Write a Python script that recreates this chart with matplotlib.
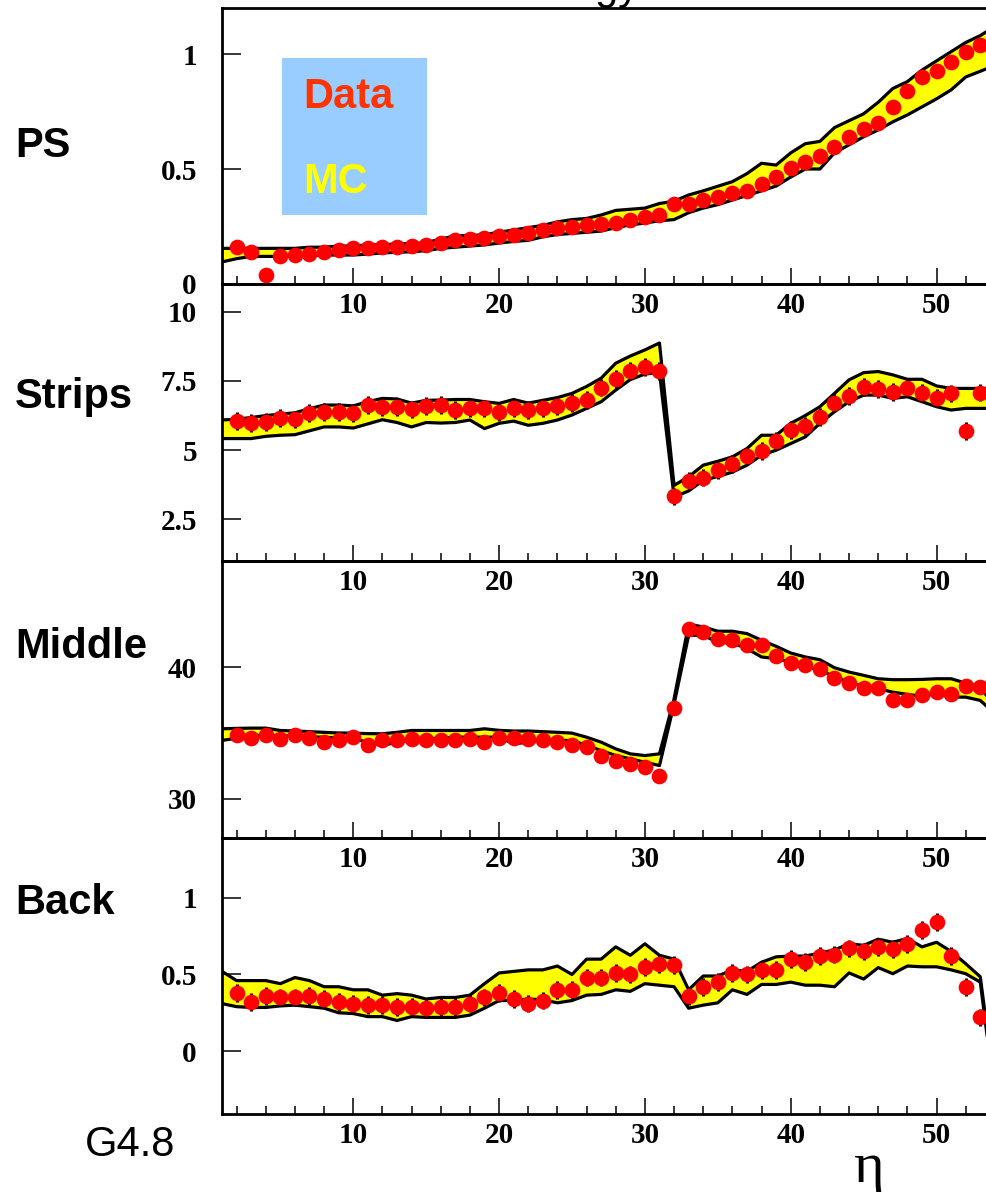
import matplotlib
matplotlib.use("Agg")
import matplotlib.pyplot as plt
from matplotlib.ticker import MultipleLocator, FixedLocator, FixedFormatter
from matplotlib.patches import Rectangle
from matplotlib.font_manager import FontProperties

# ---- eta bins -------------------------------------------------------------
data_x = list(range(2, 54))   # data points
mc_x = list(range(1, 55))     # MC band nodes

# ---- PS ---------------------------------------------------------------------
ps_data = [0.16, 0.14, 0.04, 0.12, 0.125, 0.13, 0.14, 0.15, 0.155, 0.155,
           0.16, 0.16, 0.165, 0.17, 0.18, 0.19, 0.195, 0.20, 0.21, 0.215,
           0.22, 0.235, 0.243, 0.25, 0.257, 0.26, 0.265, 0.28, 0.29, 0.30,
           0.348, 0.35, 0.365, 0.377, 0.397, 0.406, 0.435, 0.466, 0.503, 0.532,
           0.557, 0.597, 0.637, 0.672, 0.702, 0.77, 0.837, 0.899, 0.928, 0.966,
           1.01, 1.04]
ps_mc_hi = [0.155, 0.155, 0.155, 0.155, 0.155, 0.155, 0.16, 0.16, 0.165, 0.165,
            0.17, 0.17, 0.175, 0.175, 0.18, 0.195, 0.21, 0.21, 0.215, 0.225,
            0.235, 0.245, 0.255, 0.27, 0.28, 0.285, 0.30, 0.32, 0.325, 0.33,
            0.35, 0.36, 0.387, 0.405, 0.425, 0.445, 0.48, 0.525, 0.517, 0.57,
            0.61, 0.62, 0.68, 0.71, 0.74, 0.79, 0.85, 0.88, 0.93, 0.97,
            1.01, 1.05, 1.08, 1.12]
ps_mc_lo = [0.096, 0.11, 0.12, 0.12, 0.12, 0.122, 0.124, 0.126, 0.126, 0.126,
            0.13, 0.135, 0.138, 0.14, 0.145, 0.155, 0.16, 0.165, 0.17, 0.178,
            0.185, 0.19, 0.205, 0.215, 0.22, 0.225, 0.23, 0.245, 0.257, 0.265,
            0.275, 0.28, 0.31, 0.33, 0.345, 0.365, 0.385, 0.405, 0.426, 0.465,
            0.50, 0.50, 0.57, 0.605, 0.64, 0.67, 0.705, 0.735, 0.77, 0.805,
            0.844, 0.90, 0.925, 0.95]
ps_err = 0.03

# ---- Strips -----------------------------------------------------------------
strips_data = [6.06, 5.97, 6.03, 6.15, 6.11, 6.33, 6.39, 6.39, 6.33, 6.63,
               6.55, 6.57, 6.47, 6.59, 6.63, 6.45, 6.53, 6.51, 6.37, 6.51,
               6.45, 6.53, 6.59, 6.71, 6.81, 7.26, 7.57, 7.87, 8.0, 7.87,
               3.33, 3.88, 4.01, 4.27, 4.49, 4.79, 4.96, 5.33, 5.72, 5.88,
               6.21, 6.71, 6.96, 7.29, 7.2, 7.11, 7.26, 7.08, 6.9, 7.05,
               5.7, 7.08]
strips_mc_hi = [6.09, 6.12, 6.18, 6.25, 6.3, 6.35, 6.5, 6.63, 6.63, 6.6,
                6.75, 6.87, 6.85, 6.7, 6.8, 6.81, 6.83, 6.83, 6.75, 6.69,
                6.83, 6.7, 6.8, 6.9, 7.05, 7.3, 7.6, 8.14, 8.4, 8.62,
                8.87, 3.73, 4.04, 4.46, 4.6, 4.76, 5.06, 5.54, 5.54, 5.97,
                6.25, 6.57, 7.05, 7.54, 7.8, 7.84, 7.72, 7.56, 7.56, 7.32,
                7.23, 7.23, 7.23, 7.23]
strips_mc_lo = [5.42, 5.42, 5.42, 5.5, 5.54, 5.56, 5.7, 5.84, 5.84, 5.8,
                5.95, 6.1, 6.0, 5.84, 6.0, 5.98, 6.0, 6.09, 5.78, 5.97,
                6.05, 5.9, 5.97, 6.09, 6.27, 6.51, 6.75, 7.17, 7.55, 7.75,
                7.8, 3.31, 3.53, 3.91, 4.05, 4.21, 4.46, 4.82, 5.0, 5.24,
                5.48, 5.97, 6.39, 6.75, 6.99, 6.99, 6.87, 6.93, 6.75, 6.57,
                6.45, 6.51, 6.51, 6.51]
strips_err = 0.32

# ---- Middle -----------------------------------------------------------------
middle_data = [34.81, 34.6, 34.81, 34.56, 34.81, 34.6, 34.3, 34.43, 34.73, 34.12,
               34.48, 34.48, 34.56, 34.43, 34.43, 34.48, 34.56, 34.3, 34.6, 34.6,
               34.56, 34.43, 34.3, 34.05, 33.92, 33.28, 32.9, 32.65, 32.42, 31.76,
               36.92, 42.9, 42.7, 42.14, 42.06, 41.68, 41.68, 40.86, 40.33, 40.15,
               39.9, 39.21, 38.8, 38.45, 38.4, 37.48, 37.48, 37.86, 38.11, 37.99,
               38.55, 38.52]
middle_mc_hi = [35.32, 35.35, 35.37, 35.37, 35.19, 35.15, 35.1, 35.05, 35.0, 34.99,
                34.95, 34.94, 35.05, 35.19, 35.19, 35.19, 35.19, 35.19, 35.32, 35.2,
                35.15, 35.15, 35.1, 35.05, 34.99, 34.68, 34.3, 33.79, 33.41, 33.28,
                33.41, 37.6, 43.28, 43.08, 42.75, 42.75, 42.57, 42.06, 41.6, 41.09,
                40.79, 40.58, 39.97, 39.64, 39.39, 39.13, 39.06, 39.06, 39.08, 39.13,
                39.13, 38.8, 38.5, 37.0]
middle_mc_lo = [34.43, 34.6, 34.81, 34.81, 34.81, 34.75, 34.7, 34.68, 34.6, 34.56,
                34.3, 34.05, 34.3, 34.45, 34.56, 34.6, 34.68, 34.68, 34.68, 34.68,
                34.17, 34.3, 34.4, 34.43, 34.43, 34.05, 33.66, 33.28, 33.03, 32.77,
                32.52, 37.2, 42.44, 42.44, 41.9, 41.86, 41.42, 40.79, 40.66, 40.4,
                40.02, 39.82, 39.26, 38.88, 38.55, 38.37, 38.11, 37.94, 37.79, 37.99,
                37.73, 37.73, 37.48, 36.46]
middle_err = 0.4

# ---- Back -------------------------------------------------------------------
back_data = [0.38, 0.32, 0.36, 0.35, 0.35, 0.36, 0.34, 0.32, 0.31, 0.30,
             0.30, 0.29, 0.29, 0.28, 0.29, 0.29, 0.31, 0.35, 0.38, 0.34,
             0.31, 0.33, 0.40, 0.40, 0.48, 0.48, 0.51, 0.50, 0.55, 0.57,
             0.56, 0.36, 0.42, 0.45, 0.51, 0.50, 0.53, 0.53, 0.60, 0.58,
             0.62, 0.63, 0.67, 0.65, 0.68, 0.665, 0.70, 0.79, 0.84, 0.62,
             0.42, 0.22]
back_mc_hi = [0.52, 0.46, 0.46, 0.46, 0.44, 0.48, 0.46, 0.42, 0.42, 0.40,
              0.40, 0.365, 0.375, 0.365, 0.34, 0.35, 0.35, 0.365, 0.44, 0.51,
              0.52, 0.53, 0.53, 0.555, 0.50, 0.60, 0.60, 0.68, 0.625, 0.70,
              0.625, 0.60, 0.40, 0.49, 0.49, 0.53, 0.52, 0.58, 0.615, 0.62,
              0.62, 0.64, 0.66, 0.70, 0.69, 0.73, 0.71, 0.735, 0.68, 0.71,
              0.65, 0.57, 0.485, -0.25]
back_mc_lo = [0.31, 0.29, 0.285, 0.285, 0.295, 0.30, 0.29, 0.28, 0.25, 0.245,
              0.225, 0.225, 0.20, 0.225, 0.22, 0.22, 0.22, 0.235, 0.28, 0.33,
              0.33, 0.34, 0.335, 0.315, 0.33, 0.365, 0.37, 0.40, 0.39, 0.44,
              0.43, 0.42, 0.28, 0.30, 0.315, 0.40, 0.37, 0.435, 0.435, 0.45,
              0.43, 0.43, 0.42, 0.51, 0.47, 0.545, 0.505, 0.555, 0.55, 0.55,
              0.53, 0.505, 0.45, -0.30]
back_err = 0.058

panels = [
    ("PS", ps_data, ps_mc_lo, ps_mc_hi, ps_err, (0.0, 1.2),
     [0, 0.5, 1], ["0", "0.5", "1"]),
    ("Strips", strips_data, strips_mc_lo, strips_mc_hi, strips_err, (1.0, 11.0),
     [2.5, 5, 7.5, 10], ["2.5", "5", "7.5", "10"]),
    ("Middle", middle_data, middle_mc_lo, middle_mc_hi, middle_err, (27.0, 48.1),
     [30, 40], ["30", "40"]),
    ("Back", back_data, back_mc_lo, back_mc_hi, back_err, (-0.41, 1.39),
     [0, 0.5, 1], ["0", "0.5", "1"]),
]
x_major = [10, 20, 30, 40, 50]

# ---- layout (pixel geometry of the canvas) ------------------------------------
W, H = 987, 1192
fig = plt.figure(figsize=(W / 100, H / 100), dpi=100)
fig.patch.set_facecolor("white")

left_px = 222
tops = [8, 284, 561, 838]
bottoms = [284, 561, 838, 1114]
label_base = [157, 408, 658, 914]

tick_fp = FontProperties(family="Liberation Serif", weight="bold", size=21)
side_font = dict(family="Liberation Sans", weight="bold", size=30)

for i, (name, dvals, lo, hi, err, ylim, yt, ytl) in enumerate(panels):
    t, b = tops[i], bottoms[i]
    ax = fig.add_axes([left_px / W, 1 - b / H, 1 - left_px / W, (b - t) / H])
    ax.set_facecolor("none")

    ax.fill_between(mc_x, lo, hi, color="#FFFF00", lw=0, zorder=1)
    ax.plot(mc_x, hi, color="black", lw=2.3, zorder=2, solid_joinstyle="round")
    ax.plot(mc_x, lo, color="black", lw=2.3, zorder=2, solid_joinstyle="round")
    ax.errorbar(data_x, dvals, yerr=err, fmt="none", ecolor="black",
                elinewidth=2.2, capsize=0, zorder=3)
    ax.plot(data_x, dvals, "o", color="#FF0000", markersize=11.3,
            markeredgewidth=0, zorder=4)

    ax.set_xlim(1, 53.46)
    ax.set_ylim(*ylim)

    ax.xaxis.set_major_locator(FixedLocator(x_major))
    ax.xaxis.set_minor_locator(MultipleLocator(2))
    ax.xaxis.set_major_formatter(FixedFormatter([str(v) for v in x_major]))
    ax.yaxis.set_major_locator(FixedLocator(yt))
    ax.yaxis.set_major_formatter(FixedFormatter(ytl))
    for lab in ax.get_xticklabels() + ax.get_yticklabels():
        lab.set_fontproperties(tick_fp)

    ax.tick_params(axis="x", which="major", direction="in", length=11.5,
                   width=1.1, pad=6, top=False)
    ax.tick_params(axis="x", which="minor", direction="in", length=5.8,
                   width=1.1, top=False)
    ax.tick_params(axis="y", which="major", direction="in", length=13.5,
                   width=1.1, pad=18, right=False)
    ax.tick_params(axis="y", which="minor", left=False, right=False)

    for side in ("left", "bottom", "top"):
        ax.spines[side].set_linewidth(2.0)
    ax.spines["right"].set_visible(False)

    fig.text(15 / W, 1 - label_base[i] / H, name, ha="left", va="baseline",
             **side_font)

# legend box
fig.patches.append(Rectangle((282 / W, 1 - 215 / H), 145 / W, 157 / H,
                             transform=fig.transFigure, facecolor="#99CCFF",
                             edgecolor="none", zorder=5))
fig.text(303 / W, 1 - 108 / H, "Data", color="#FF3300", ha="left",
         va="baseline", zorder=6, **side_font)
fig.text(303 / W, 1 - 193 / H, "MC", color="#FFFF00", ha="left",
         va="baseline", zorder=6, **side_font)

# title (sits at the top edge), version tag and axis symbol
fig.text(640 / W, 1 + 1 / H, "Energy", ha="right", va="baseline",
         family="Liberation Sans", size=30)
fig.text(85 / W, 1 - 1156 / H, "G4.8", ha="left", va="baseline",
         family="Liberation Sans", size=30)
fig.text(868 / W, 1 - 1182 / H, "η", ha="center", va="baseline",
         family="Liberation Serif", size=42)

fig.savefig("out.png", dpi=100)
